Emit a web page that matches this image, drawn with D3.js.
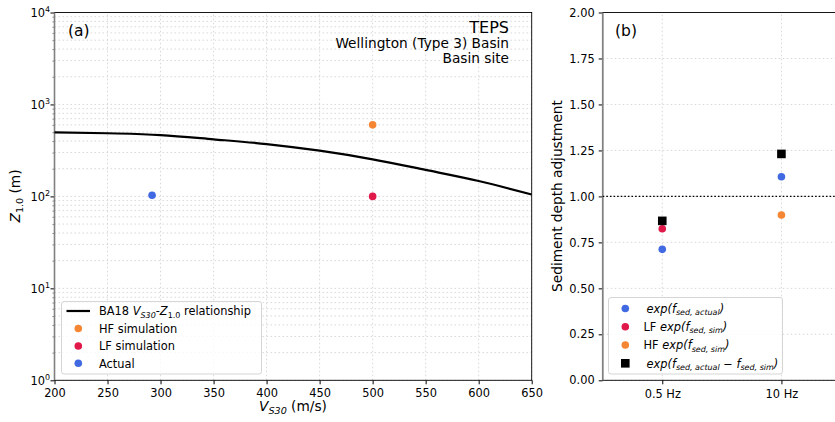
<!DOCTYPE html>
<html><head><meta charset="utf-8">
<script src="https://cdn.jsdelivr.net/npm/d3@7"></script>
<style>body{margin:0;background:#fff}svg{display:block;font-family:"DejaVu Sans",sans-serif}</style>
</head><body><svg id="c" width="835" height="422"></svg>
<script>
// ---------- data ----------
const curveVs30 = [200, 250, 300, 350, 400, 450, 500, 550, 600, 650];
const curveZ1 = [498, 486, 465, 418, 371, 314, 253, 194, 147, 105];
const pointLabels = ["HF simulation", "LF simulation", "Actual"];
const pointVs30 = [500, 500, 292];
const pointZ1 = [600, 100, 103];
const xTicksA = [200, 250, 300, 350, 400, 450, 500, 550, 600, 650];
const yExpA = [0, 1, 2, 3, 4];

const freqLabels = ["0.5 Hz", "10 Hz"];
const expActual = [0.712, 1.107];
const lfExpSim = [0.824, null];
const hfExpSim = [null, 0.899];
const expDiff = [0.867, 1.231];
const yTicksB = [0, 0.25, 0.5, 0.75, 1, 1.25, 1.5, 1.75, 2];

// ---------- style ----------
const C_BLUE = "#4169e1", C_RED = "#e0194a", C_ORANGE = "#f58634";
const FONT = "DejaVu Sans";
const svg = d3.select("#c");
const gridStyle = s => s.attr("stroke", "#cfcfcf").attr("stroke-width", 0.8).attr("stroke-dasharray", "1.6,2.4");

function richText(g, x, y, parts, size, anchor, extra) {
  const t = g.append("text").attr("x", x).attr("y", y).attr("font-size", size)
    .attr("text-anchor", anchor || "start").attr("fill", "#000");
  if (extra) extra(t);
  parts.forEach(p => {
    const ts = t.append("tspan").text(p.t);
    if (p.i) ts.attr("font-style", "italic");
    if (p.sub) { ts.attr("font-size", size * 0.7).attr("dy", size * 0.22); }
    if (p.sup) { ts.attr("font-size", size * 0.7).attr("dy", -size * 0.38); }
    if (p.reset) ts.attr("dy", p.reset * size);
  });
  return t;
}

// ---------- panel (a) ----------
const xA = d3.scaleLinear().domain([200, 650]).range([54.5, 531.7]);
const yA = d3.scaleLog().domain([1, 1e4]).range([380.3, 12.5]);
const gA = svg.append("g");

// grid
const minorVals = [];
yExpA.slice(0, -1).forEach(e => { for (let m = 2; m <= 9; m++) minorVals.push(m * Math.pow(10, e)); });
gA.append("g").selectAll("line").data(minorVals.concat(yExpA.map(e => Math.pow(10, e)))).join("line")
  .attr("x1", xA(200)).attr("x2", xA(650)).attr("y1", d => yA(d)).attr("y2", d => yA(d)).call(gridStyle);
gA.append("g").selectAll("line").data(xTicksA).join("line")
  .attr("x1", d => xA(d)).attr("x2", d => xA(d)).attr("y1", yA(1)).attr("y2", yA(1e4)).call(gridStyle);

// axes
const axBottomA = d3.axisBottom(xA).tickValues(xTicksA).tickSize(4).tickPadding(5).tickFormat(d3.format("d"));
const gxA = gA.append("g").attr("transform", `translate(0,${yA(1)})`).call(axBottomA);
gxA.select(".domain").remove();
gxA.selectAll("text").attr("font-size", 11.4).attr("font-family", FONT).attr("fill", "#000");
gxA.selectAll("line").attr("stroke", "#000");

const gyA = gA.append("g").attr("transform", `translate(${xA(200)},0)`)
  .call(d3.axisLeft(yA).tickValues(minorVals).tickSize(2).tickFormat(""));
gyA.select(".domain").remove();
gyA.selectAll("line").attr("stroke", "#333").attr("stroke-width", 0.6);
const gyA2 = gA.append("g").attr("transform", `translate(${xA(200)},0)`)
  .call(d3.axisLeft(yA).tickValues(yExpA.map(e => Math.pow(10, e))).tickSize(4).tickFormat(""));
gyA2.select(".domain").remove();
gyA2.selectAll("line").attr("stroke", "#000");
yExpA.forEach(e => {
  richText(gA, 50, yA(Math.pow(10, e)) + 4.2, [{ t: "10" }, { t: String(e), sup: true }], 11.4, "end", null);
});

// spines
gA.append("rect").attr("x", xA(200)).attr("y", yA(1e4)).attr("width", xA(650) - xA(200)).attr("height", yA(1) - yA(1e4))
  .attr("fill", "none").attr("stroke", "#000").attr("stroke-width", 0.9);
gA.append("line").attr("x1", xA(200)).attr("x2", xA(200)).attr("y1", yA(1e4)).attr("y2", yA(1))
  .attr("stroke", "#808080").attr("stroke-width", 1.6);

// curve
const lineGen = d3.line().x((d, i) => xA(curveVs30[i])).y(d => yA(d)).curve(d3.curveMonotoneX);
gA.append("path").attr("d", lineGen(curveZ1)).attr("fill", "none").attr("stroke", "#000").attr("stroke-width", 2.2);

// points
const pointColors = [C_ORANGE, C_RED, C_BLUE];
gA.append("g").selectAll("circle").data(pointZ1).join("circle")
  .attr("cx", (d, i) => xA(pointVs30[i])).attr("cy", d => yA(d)).attr("r", 3.8)
  .attr("fill", (d, i) => pointColors[i]);

// texts
gA.append("text").attr("x", 68).attr("y", 36).attr("font-size", 15.5).text("(a)");
gA.append("text").attr("x", 509).attr("y", 32.5).attr("font-size", 16).attr("text-anchor", "end").text("TEPS");
gA.append("text").attr("x", 509).attr("y", 48).attr("font-size", 13.7).attr("text-anchor", "end").text("Wellington (Type 3) Basin");
gA.append("text").attr("x", 509).attr("y", 62.5).attr("font-size", 13.7).attr("text-anchor", "end").text("Basin site");

// axis labels
richText(gA, 293, 410.5, [{ t: "V", i: true }, { t: "S30", sub: true, i: true }, { t: " (m/s)", reset: -0.22 }], 13.7, "middle");
richText(gA, 0, 0, [{ t: "Z", i: true }, { t: "1.0", sub: true }, { t: " (m)", reset: -0.22 }], 13.7, "middle",
  t => t.attr("transform", "translate(20,196) rotate(-90)"));

// legend (a)
const lgA = gA.append("g");
lgA.append("rect").attr("x", 61.5).attr("y", 301.5).attr("width", 200).attr("height", 72.5).attr("rx", 2.5)
  .attr("fill", "rgba(255,255,255,0.8)").attr("stroke", "#d0d0d0").attr("stroke-width", 0.9);
const legYA = [311, 328.5, 346, 363.3];
lgA.append("line").attr("x1", 66.5).attr("x2", 90).attr("y1", legYA[0]).attr("y2", legYA[0]).attr("stroke", "#000").attr("stroke-width", 2.2);
richText(lgA, 99, legYA[0] + 4.2, [{ t: "BA18 " }, { t: "V", i: true }, { t: "S30", sub: true, i: true },
  { t: "-", reset: -0.22 }, { t: "Z", i: true }, { t: "1.0", sub: true }, { t: " relationship", reset: -0.22 }], 11.4, "start");
pointLabels.forEach((lab, i) => {
  lgA.append("circle").attr("cx", 78.3).attr("cy", legYA[i + 1]).attr("r", 3.8).attr("fill", pointColors[i]);
  lgA.append("text").attr("x", 99).attr("y", legYA[i + 1] + 4.2).attr("font-size", 11.4).text(lab);
});

// ---------- panel (b) ----------
const xB = d3.scaleLinear().domain([-0.5, 1.5]).range([602.7, 841]);
const yB = d3.scaleLinear().domain([0, 2]).range([380.3, 12.5]);
const gB = svg.append("g");

gB.append("g").selectAll("line").data(yTicksB).join("line")
  .attr("x1", xB(-0.5)).attr("x2", xB(1.5)).attr("y1", d => yB(d)).attr("y2", d => yB(d)).call(gridStyle);
gB.append("g").selectAll("line").data(freqLabels).join("line")
  .attr("x1", (d, i) => xB(i)).attr("x2", (d, i) => xB(i)).attr("y1", yB(0)).attr("y2", yB(2)).call(gridStyle);

const gxB = gB.append("g").attr("transform", `translate(0,${yB(0)})`)
  .call(d3.axisBottom(xB).tickValues([0, 1]).tickSize(4).tickPadding(5.5).tickFormat(i => freqLabels[i]));
gxB.select(".domain").remove();
gxB.selectAll("text").attr("font-size", 11.4).attr("font-family", FONT).attr("fill", "#000");
gxB.selectAll("line").attr("stroke", "#000");
const gyB = gB.append("g").attr("transform", `translate(${xB(-0.5)},0)`)
  .call(d3.axisLeft(yB).tickValues(yTicksB).tickSize(4).tickPadding(4).tickFormat(d3.format(".2f")));
gyB.select(".domain").remove();
gyB.selectAll("text").attr("font-size", 11.4).attr("font-family", FONT).attr("fill", "#000");
gyB.selectAll("line").attr("stroke", "#000");

gB.append("rect").attr("x", xB(-0.5)).attr("y", yB(2)).attr("width", xB(1.5) - xB(-0.5)).attr("height", yB(0) - yB(2))
  .attr("fill", "none").attr("stroke", "#000").attr("stroke-width", 0.9);
gB.append("line").attr("x1", xB(-0.5)).attr("x2", xB(-0.5)).attr("y1", yB(2)).attr("y2", yB(0))
  .attr("stroke", "#808080").attr("stroke-width", 1.6);

// reference line at 1
gB.append("line").attr("x1", xB(-0.5)).attr("x2", xB(1.5)).attr("y1", yB(1)).attr("y2", yB(1))
  .attr("stroke", "#000").attr("stroke-width", 1.1).attr("stroke-dasharray", "1.6,2");

const drawDots = (arr, col) => gB.append("g").selectAll("circle").data(arr.map((v, i) => ({ v, i })).filter(d => d.v !== null)).join("circle")
  .attr("cx", d => xB(d.i)).attr("cy", d => yB(d.v)).attr("r", 3.8).attr("fill", col);
drawDots(expActual, C_BLUE);
drawDots(lfExpSim, C_RED);
drawDots(hfExpSim, C_ORANGE);
gB.append("g").selectAll("rect").data(expDiff).join("rect")
  .attr("x", (d, i) => xB(i) - 4.3).attr("y", d => yB(d) - 4.3).attr("width", 8.6).attr("height", 8.6).attr("fill", "#000");

gB.append("text").attr("x", 615).attr("y", 36).attr("font-size", 15.5).text("(b)");
gB.append("text").attr("transform", "translate(562,196) rotate(-90)").attr("text-anchor", "middle")
  .attr("font-size", 13.7).text("Sediment depth adjustment");

// legend (b)
const lgB = gB.append("g");
lgB.append("rect").attr("x", 608.5).attr("y", 297.5).attr("width", 174).attr("height", 76.5).attr("rx", 2.5)
  .attr("fill", "rgba(255,255,255,0.8)").attr("stroke", "#d0d0d0").attr("stroke-width", 0.9);
const legYB = [308.5, 326.7, 345, 363.3];
const legColsB = [C_BLUE, C_RED, C_ORANGE];
legColsB.forEach((c, i) => lgB.append("circle").attr("cx", 625.3).attr("cy", legYB[i]).attr("r", 3.8).attr("fill", c));
lgB.append("rect").attr("x", 621).attr("y", legYB[3] - 4.3).attr("width", 8.6).attr("height", 8.6).attr("fill", "#000");
const legTextsB = [
  [{ t: "exp(f", i: true }, { t: "sed, actual", sub: true, i: true }, { t: ")", i: true, reset: -0.22 }],
  [{ t: "LF " }, { t: "exp(f", i: true }, { t: "sed, sim", sub: true, i: true }, { t: ")", i: true, reset: -0.22 }],
  [{ t: "HF " }, { t: "exp(f", i: true }, { t: "sed, sim", sub: true, i: true }, { t: ")", i: true, reset: -0.22 }],
  [{ t: "exp(f", i: true }, { t: "sed, actual", sub: true, i: true }, { t: " \u2212 f", i: true, reset: -0.22 },
   { t: "sed, sim", sub: true, i: true }, { t: ")", i: true, reset: -0.22 }]
];
legTextsB.forEach((p, i) => richText(lgB, i === 1 || i === 2 ? 643.5 : 646.5, legYB[i] + 4.2, p, 11.4, "start"));
</script></body></html>
